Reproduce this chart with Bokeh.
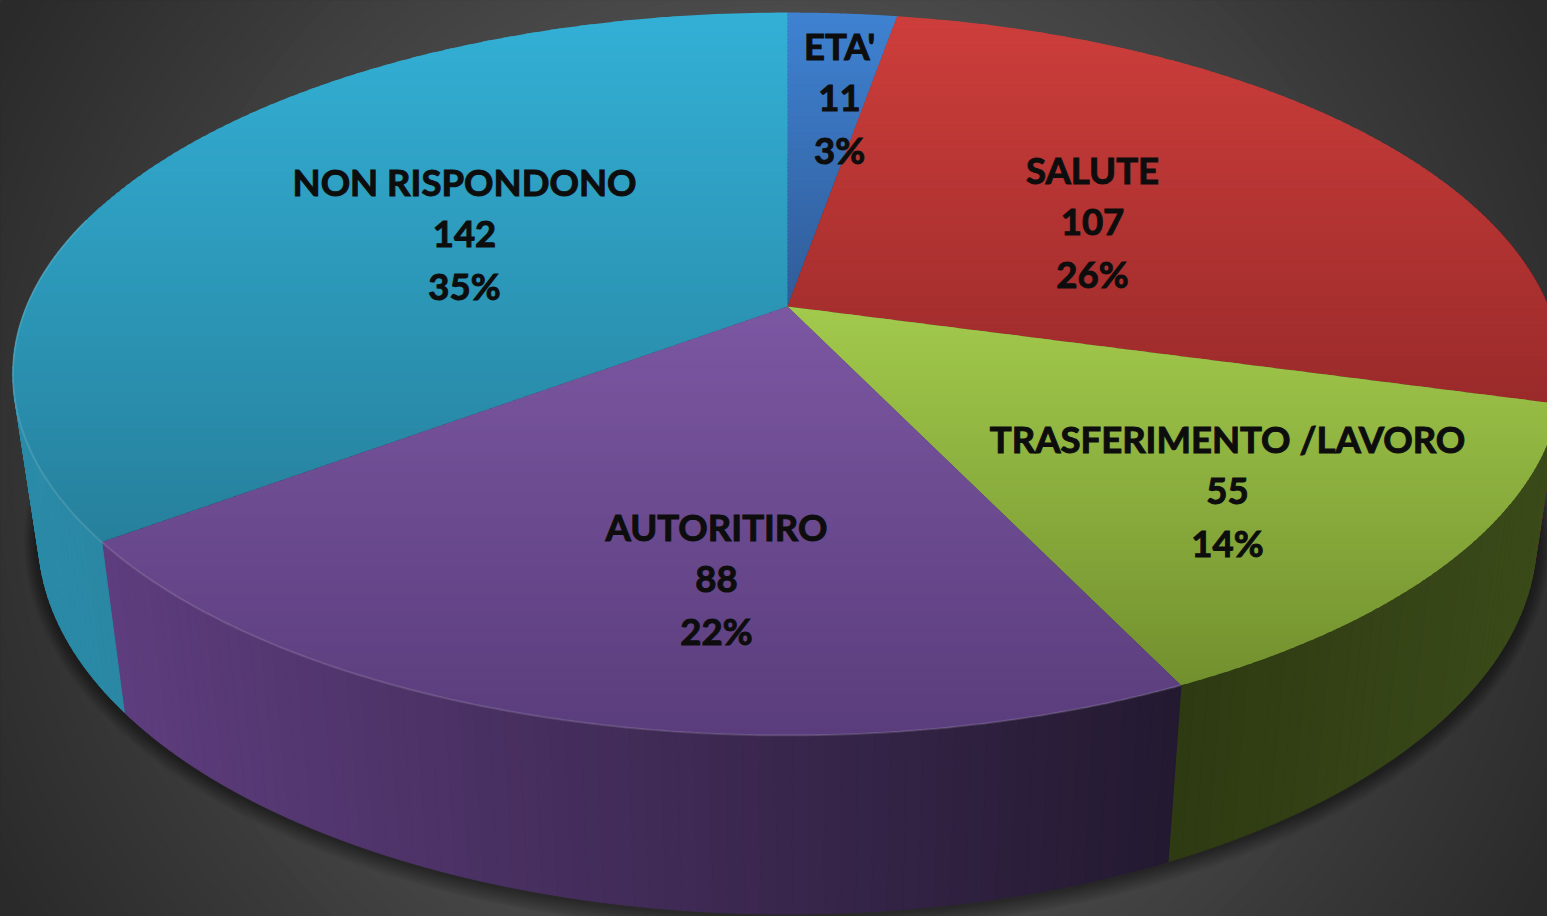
import numpy as np
from bokeh.embed import file_html
from bokeh.resources import INLINE
from bokeh.plotting import figure
from bokeh.models import Range1d
from bokeh.core.properties import value

# ---- data ----
categories = ["ETA'", "SALUTE", "TRASFERIMENTO /LAVORO", "AUTORITIRO", "NON RISPONDONO"]
counts = [11, 107, 55, 88, 142]
percents = ["3%", "26%", "14%", "22%", "35%"]

# ---- styles ----
top_start = ["#3f82d2", "#cd3e3b", "#a2ca4c", "#7c57a2", "#33b0d6"]
top_end = ["#305c98", "#9a2a2a", "#72902e", "#5a3d7c", "#26809c"]
wall_start = ["#254a80", "#6e1d1d", "#2e3a12", "#5e3d7e", "#2b8ba8"]
wall_end = ["#254a80", "#6e1d1d", "#3b4b19", "#231930", "#1f7088"]
label_cx = [839, 1092, 1227, 716, 464]
label_cy = [45, 169, 438, 526, 181]
LINE_GAP = 52.2
FONT = "Lato"
FONT_SIZE = "36.5px"

# ---- perspective model of the pie, in screen pixels ----
CX = 787
TOP = dict(a=761.0, b=348.8, k=0.1867, y0=306.0)
BOT = dict(a=736.0, b=364.0, k=0.1867, y0=466.0)


def project(theta, m, r=1.0, grow=0.0, dy=0.0):
    u, v = r * np.sin(theta), -r * np.cos(theta)
    w = 1 - m["k"] * v
    return (CX + (m["a"] + grow) * u / w, m["y0"] + dy + (m["b"] + grow) * v / w)


def hex2rgb(h):
    return np.array([int(h[i:i + 2], 16) for i in (1, 3, 5)], float)


def mix(c0, c1, t):
    t = min(max(t, 0.0), 1.0)
    c = hex2rgb(c0) * (1 - t) + hex2rgb(c1) * t
    return "#%02x%02x%02x" % tuple(int(round(x)) for x in c)


def clip_band(xs, ys, y0, y1):
    pts = list(zip(xs, ys))
    for limit, keep_below in ((y0, False), (y1, True)):
        out = []
        n = len(pts)
        for i in range(n):
            a, b = pts[i], pts[(i + 1) % n]
            ina = a[1] <= limit if keep_below else a[1] >= limit
            inb = b[1] <= limit if keep_below else b[1] >= limit
            if ina:
                out.append(a)
            if ina != inb:
                t = (limit - a[1]) / (b[1] - a[1])
                out.append((a[0] + t * (b[0] - a[0]), limit))
        pts = out
        if not pts:
            return [], []
    return [p[0] for p in pts], [p[1] for p in pts]


total = sum(counts)
edges = 2 * np.pi * np.cumsum([0] + counts) / total

p = figure(width=1547, height=916, x_range=Range1d(0, 1547), y_range=Range1d(916, 0),
           output_backend="svg", toolbar_location=None, min_border=0,
           background_fill_color="#2a2a2a", border_fill_color="#2a2a2a")
p.axis.visible = False
p.grid.visible = False
p.outline_line_color = None

# radial background
radii = np.arange(1000, 0, -14.0)
greys = [int(np.clip(74 - 0.073 * (r - 458), 42, 100)) for r in radii]
p.circle(x=[773.5] * len(radii), y=[458] * len(radii), radius=radii,
         fill_color=["#%02x%02x%02x" % (g, g, g) for g in greys], line_color=None)

# soft shadow
ring = np.linspace(0, 2 * np.pi, 361)
for g in range(1, 15):
    sx, sy = project(ring, BOT, grow=g * 1.0, dy=2)
    p.patch(sx, sy, fill_color="black", fill_alpha=0.03, line_color=None)

# side walls
wx, wy, wc = [], [], []
for i in range(len(counts)):
    t0, t1 = edges[i], edges[i + 1]
    n = max(2, int((t1 - t0) / np.radians(1.0)))
    th = np.linspace(t0, t1, n + 1)
    xa, ya = project(th, TOP)
    xb, yb = project(th, BOT)
    xmin, xmax = xa.min(), xa.max()
    for j in range(n):
        if np.cos(th[j]) > 0.3 and np.cos(th[j + 1]) > 0.3:
            continue
        wx.append([xa[j], xa[j + 1], xb[j + 1], xb[j]])
        wy.append([ya[j], ya[j + 1], yb[j + 1], yb[j]])
        wc.append(mix(wall_start[i], wall_end[i], ((xa[j] + xa[j + 1]) / 2 - xmin) / (xmax - xmin)))
p.patches(wx, wy, fill_color=wc, line_color=wc, line_width=1)

# top faces, drawn as thin overlapping horizontal bands for the vertical gradient
BAND = 4
tx, ty, tc = [], [], []
for i in range(len(counts)):
    th = np.linspace(edges[i], edges[i + 1], 160)
    xr, yr = project(th, TOP)
    xs = [CX] + list(xr)
    ys = [TOP["y0"]] + list(yr)
    lo, hi = min(ys), max(ys)
    y = lo
    while y < hi:
        bx, by = clip_band(xs, ys, y, y + BAND + 1.5)
        if len(bx) >= 3:
            tx.append(bx)
            ty.append(by)
            tc.append(mix(top_start[i], top_end[i], (y + BAND / 2 - lo) / (hi - lo)))
        y += BAND
p.patches(tx, ty, fill_color=tc, line_color=None)

# light bevel on the front rim
front = np.linspace(edges[3], np.radians(285), 260)
rx, ry = project(front, TOP)
p.line(rx, ry, line_color="white", line_alpha=0.13, line_width=2)

# labels
for name, cnt, pct, cx, cy in zip(categories, counts, percents, label_cx, label_cy):
    p.text(x=[cx] * 3, y=[cy, cy + LINE_GAP, cy + 2 * LINE_GAP], text=[name, str(cnt), pct],
           text_font=value(FONT), text_font_style="bold", text_font_size=FONT_SIZE,
           text_color="#0d0d0d", text_outline_color="#0d0d0d",
           text_align="center", text_baseline="middle")

open("out.html", "w").write(file_html(p, INLINE))
